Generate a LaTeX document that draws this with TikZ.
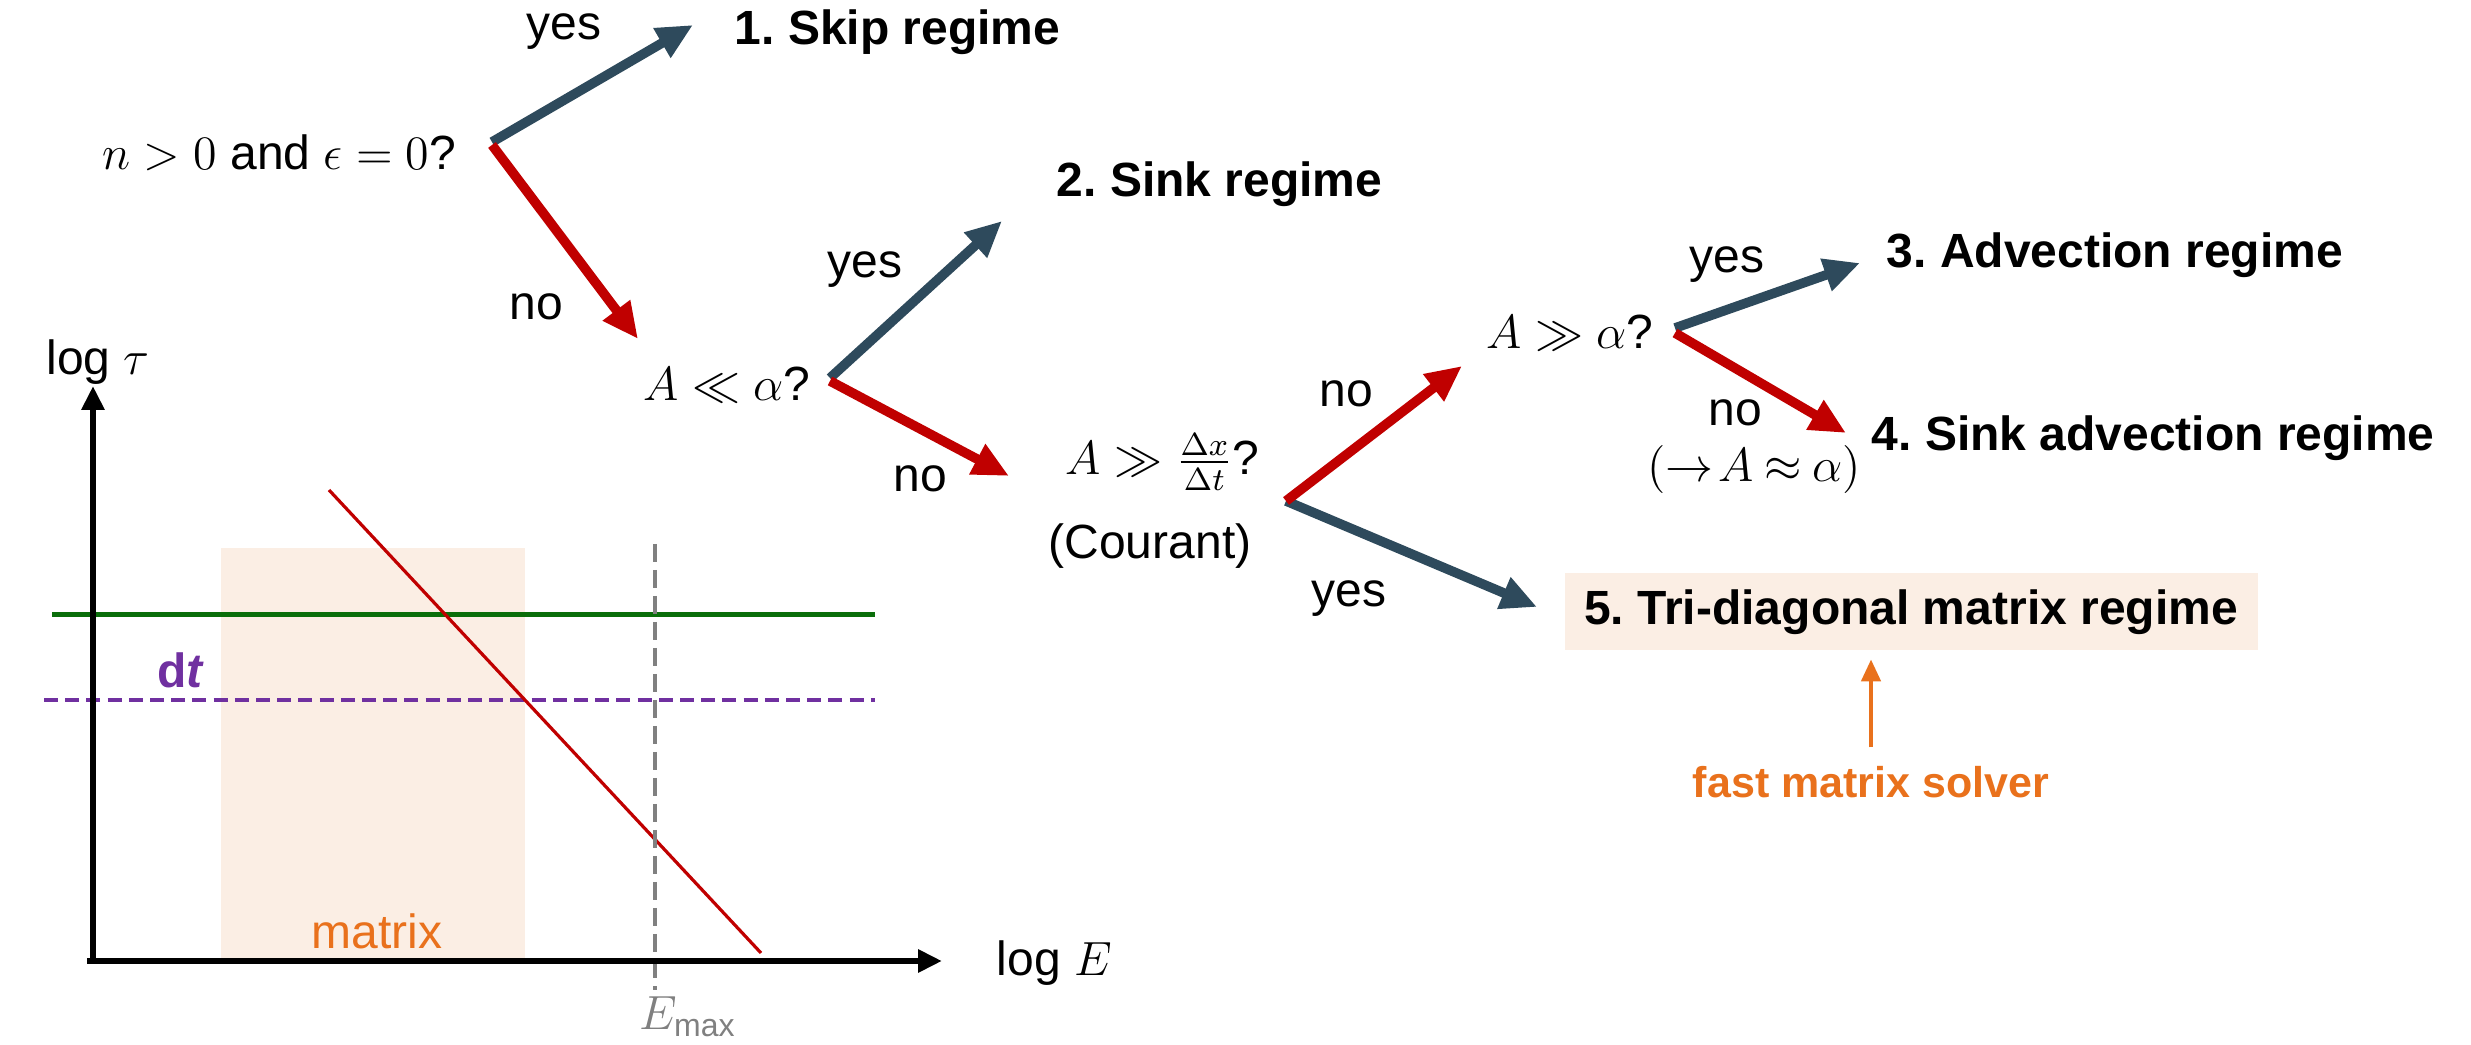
\documentclass[tikz,border=0pt]{standalone}
\usepackage{fontspec}
\setmainfont{Liberation Sans}
\usetikzlibrary{arrows.meta,calc}
\definecolor{slate}{HTML}{2E4A5C}
\definecolor{dred}{HTML}{C00000}
\definecolor{dgreen}{HTML}{0A6E0A}
\definecolor{purp}{HTML}{7030A0}
\definecolor{orng}{HTML}{E9711C}
\definecolor{peach}{HTML}{FBEEE4}
\definecolor{gry}{HTML}{808080}
\frenchspacing
\begin{document}
\begin{tikzpicture}[x=0.25pt,y=-0.25pt,
  every node/.style={font=\fontsize{12}{14}\selectfont, inner sep=0pt},
  regime/.style={font=\fontsize{12}{14}\selectfont\bfseries, anchor=west},
  question/.style={anchor=west},
  yesarrow/.style={draw=slate, line width=2.4pt, -{Triangle[length=9pt,width=8pt]}},
  noarrow/.style={draw=dred, line width=2.4pt, -{Triangle[length=9pt,width=8pt]}},
  axis/.style={line width=1.6pt, -{Triangle[length=6pt,width=5.5pt]}}
]
\useasboundingbox (0,0) rectangle (2471,1045);

% ---------- chart ----------
\fill[peach] (221,548) rectangle (525,961);
\draw[dgreen, line width=1.25pt] (52,615) -- (875,615);
\draw[purp, line width=1pt, dash pattern=on 3.5pt off 1.8pt] (44,700) -- (875,700);
\draw[dred, line width=0.8pt] (329,490) -- (761,953);
\draw[gry, line width=1pt, dash pattern=on 4.5pt off 2pt] (655,544) -- (655,990);
\draw[axis] (93,964) -- (93,386);
\draw[axis] (87,961) -- (942,961);
\node (ltau) at (98,362) {log $\tau$};
\node[anchor=west] (lE) at (996,963) {log $E$};
\node[text=gry] (emax) at (688,1017) {$E_{\max}$};
\node[text=orng] (mtx) at (377,931) {matrix};
\node[text=purp, font=\fontsize{12}{14}\selectfont\bfseries] (dt) at (181,670) {d\textit{t}};

% ---------- decision tree ----------
\node[anchor=east] (q1) at (457,153) {$n>0$ and $\epsilon=0$?};
\node[regime] (r1) at (734,32) {1. Skip regime};
\node[question] (q2) at (643,385) {$A\ll\alpha$?};
\node[regime] (r2) at (1056,184) {2. Sink regime};
\node[question] (q3) at (1065,462) {$A\gg\frac{\Delta x}{\Delta t}$?};
\node (cour) at (1150,546) {(Courant)};
\node[question] (q4) at (1486,333) {$A\gg\alpha$?};
\node[regime] (r3) at (1886,255) {3. Advection regime};
\node[regime] (r4) at (1871,438) {4. Sink advection regime};
\node (approx) at (1754,470) {$(\mathord{\rightarrow}\mkern2mu A\mkern-1mu\approx\mkern-1mu\alpha)$};
\node[fill=peach, minimum width=173.25pt, minimum height=19.25pt,
      font=\fontsize{12}{14}\selectfont\bfseries] (r5) at (1911,612) {5. Tri-diagonal matrix regime};
\node[text=orng, font=\fontsize{10.75}{13}\selectfont\bfseries] (fast) at (1871,782) {fast matrix solver};

% arrow anchor points
\coordinate (q1y) at (492,142);
\coordinate (q1n) at (492,145);
\coordinate (r1a) at (693,25);
\coordinate (q2a) at (638,339);
\coordinate (q2y) at (830,378);
\coordinate (q2n) at (830,381);
\coordinate (r2a) at (1002,221);
\coordinate (q3a) at (1009,476);
\coordinate (q3o) at (1286,501);
\coordinate (q4a) at (1462,366);
\coordinate (r5a) at (1537,607);
\coordinate (q4y) at (1675,328);
\coordinate (q4n) at (1675,333);
\coordinate (r3a) at (1860,263);
\coordinate (r4a) at (1846,433);

\draw[yesarrow] (q1y) -- (r1a);
\draw[noarrow] (q1n) -- (q2a);
\draw[yesarrow] (q2y) -- (r2a);
\draw[noarrow] (q2n) -- (q3a);
\draw[yesarrow] (q3o) -- (r5a);
\draw[noarrow] (q3o) -- (q4a);
\draw[yesarrow] (q4y) -- (r3a);
\draw[noarrow] (q4n) -- (r4a);
\draw[orng, line width=1.2pt, -{Triangle[length=5.5pt,width=4.7pt]}] (fast.north) ++(0,-18) -- ($(r5.south)+(-40,8)$);

% labels
\node (y1) at (564,32) {yes};
\node (n1) at (536,307) {no};
\node (y2) at (865,270) {yes};
\node (n2) at (920,479) {no};
\node (n3) at (1346,394) {no};
\node (y3) at (1349,599) {yes};
\node (y4) at (1727,265) {yes};
\node (n4) at (1735,413) {no};
\end{tikzpicture}
\end{document}
